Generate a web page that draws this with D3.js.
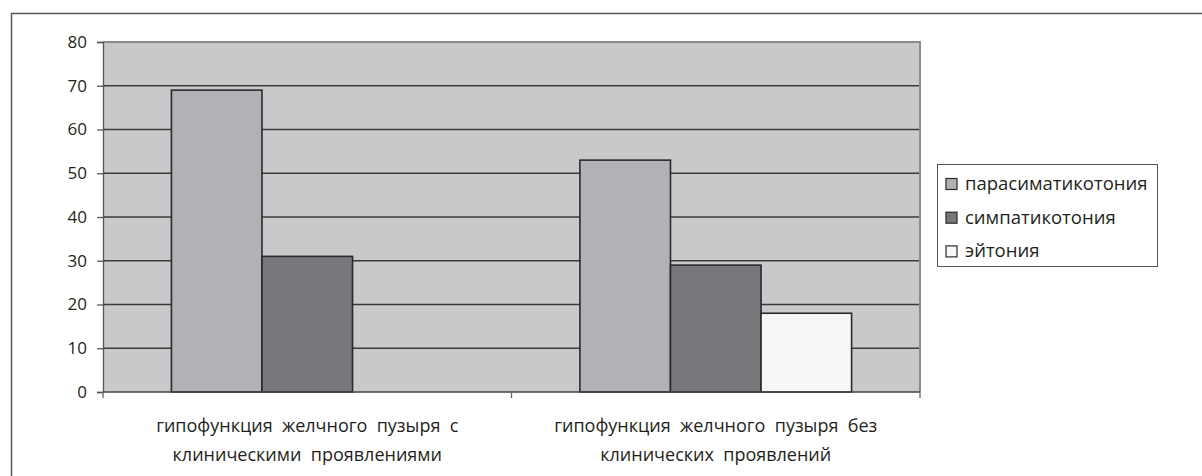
<!DOCTYPE html>
<html>
<head>
<meta charset="utf-8">
<script src="https://cdn.jsdelivr.net/npm/d3@7"></script>
<style>
  html, body { margin: 0; padding: 0; background: #fff; }
  svg { display: block; font-family: "Open Sans", "Noto Sans", sans-serif; }
</style>
</head>
<body>
<svg id="chart" width="1202" height="476"></svg>
<script>
// Categories (each label split into its two lines)
const categories = ["cat1", "cat2"];
const categoryLines = [
  ["гипофункция  желчного  пузыря  с", "клиническими  проявлениями"],
  ["гипофункция  желчного  пузыря  без", "клинических  проявлений"]
];
const seriesNames = ["парасиматикотония", "симпатикотония", "эйтония"];
// Values per series, one per category (null = no bar)
const parasympathetic = [69, 53];
const sympathetic = [31, 29];
const eutonia = [null, 18];
const yTicks = [0, 10, 20, 30, 40, 50, 60, 70, 80];

const seriesValues = [parasympathetic, sympathetic, eutonia];
const seriesColors = ["#b1b2b5", "#77787c", "#f7f7f7"];
const textColor = "#231f20";

const svg = d3.select("#chart");

// outer frame (runs off the right and bottom edges)
svg.append("rect")
  .attr("x", 11.5).attr("y", 13.5)
  .attr("width", 1220).attr("height", 500)
  .attr("fill", "none").attr("stroke", "#555").attr("stroke-width", 1.5);

const plot = { left: 103, top: 42, right: 920, bottom: 392 };

const y = d3.scaleLinear().domain([0, 80]).range([plot.bottom, plot.top]);
const x0 = d3.scaleBand().domain(categories)
  .range([plot.left, plot.right]).paddingInner(0.335).paddingOuter(0.1675);
const x1 = d3.scaleBand().domain(d3.range(seriesNames.length))
  .range([0, x0.bandwidth()]).padding(0);

// plot background
svg.append("rect")
  .attr("x", plot.left).attr("y", plot.top)
  .attr("width", plot.right - plot.left).attr("height", plot.bottom - plot.top)
  .attr("fill", "#c8c9cb");

// horizontal gridlines
svg.append("g").selectAll("line")
  .data(yTicks.filter(t => t > 0 && t < 80))
  .join("line")
  .attr("x1", plot.left).attr("x2", plot.right)
  .attr("y1", d => y(d)).attr("y2", d => y(d))
  .attr("stroke", "#3a3a3a").attr("stroke-width", 1.3);

// top and right border of the plot area
svg.append("path")
  .attr("d", `M${plot.left},${plot.top}H${plot.right}V${plot.bottom}`)
  .attr("fill", "none").attr("stroke", "#8a8b8d").attr("stroke-width", 2);

// bars
const groups = svg.append("g").selectAll("g")
  .data(categories)
  .join("g")
  .attr("transform", d => `translate(${x0(d)},0)`);

groups.selectAll("rect")
  .data((d, ci) => seriesValues.map((s, si) => ({ si, v: s[ci] })).filter(e => e.v != null))
  .join("rect")
  .attr("x", d => x1(d.si))
  .attr("y", d => y(d.v))
  .attr("width", x1.bandwidth())
  .attr("height", d => y(0) - y(d.v))
  .attr("fill", d => seriesColors[d.si])
  .attr("stroke", "#2a2a2a").attr("stroke-width", 1.6);

// y axis
const yAxis = d3.axisLeft(y).tickValues(yTicks).tickSize(6).tickPadding(10);
const gy = svg.append("g").attr("transform", `translate(${plot.left},0)`).call(yAxis);
gy.attr("font-family", null).attr("font-size", null);
gy.select(".domain").attr("stroke", "#555").attr("stroke-width", 1.3);
gy.selectAll(".tick line").attr("stroke", "#555").attr("stroke-width", 1.3);
gy.selectAll(".tick text")
  .attr("fill", textColor).style("font-size", "17px");

// x axis: baseline plus category separators
const xBoundaries = [plot.left, (x0(categories[0]) + x0.bandwidth() + x0(categories[1])) / 2, plot.right];
svg.append("line")
  .attr("x1", plot.left).attr("x2", plot.right)
  .attr("y1", plot.bottom).attr("y2", plot.bottom)
  .attr("stroke", "#444").attr("stroke-width", 1.6);
svg.append("g").selectAll("line")
  .data(xBoundaries)
  .join("line")
  .attr("x1", d => d).attr("x2", d => d)
  .attr("y1", plot.bottom).attr("y2", plot.bottom + 6)
  .attr("stroke", "#666").attr("stroke-width", 1.3);

// category labels
const catLabels = svg.append("g").selectAll("text")
  .data(categories)
  .join("text")
  .attr("x", d => x0(d) + x0.bandwidth() / 2)
  .attr("y", 432)
  .attr("text-anchor", "middle")
  .attr("fill", textColor)
  .style("font-size", "18px")
  .style("white-space", "pre");
catLabels.each(function (d, i) {
  const t = d3.select(this);
  categoryLines[i].forEach((line, li) => {
    t.append("tspan")
      .attr("x", x0(d) + x0.bandwidth() / 2)
      .attr("dy", li === 0 ? 0 : 28.5)
      .text(line);
  });
});

// legend
const legend = svg.append("g");
legend.append("rect")
  .attr("x", 937.5).attr("y", 164.5)
  .attr("width", 220).attr("height", 102)
  .attr("fill", "#fff").attr("stroke", "#555").attr("stroke-width", 1);
const items = legend.selectAll("g.item")
  .data(seriesNames)
  .join("g").attr("class", "item")
  .attr("transform", (d, i) => `translate(946,${184 + i * 33.7})`);
items.append("rect")
  .attr("x", 0).attr("y", -5.5).attr("width", 11).attr("height", 11)
  .attr("fill", (d, i) => seriesColors[i])
  .attr("stroke", "#2a2a2a").attr("stroke-width", 1.2);
items.append("text")
  .attr("x", 19).attr("y", 6)
  .attr("fill", textColor)
  .style("font-size", "18.5px")
  .text(d => d);
</script>
</body>
</html>
